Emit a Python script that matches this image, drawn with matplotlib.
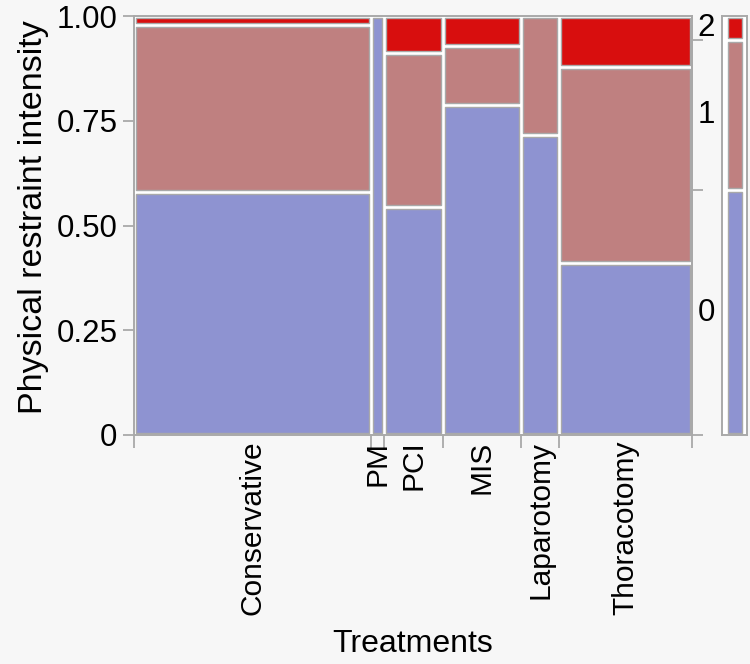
import matplotlib as mpl
import matplotlib.pyplot as plt
from matplotlib.patches import Rectangle
import numpy as np

treatments = ["Conservative", "PM", "PCI", "MIS", "Laparotomy", "Thoracotomy"]
treatment_share = [0.4246, 0.0231, 0.1060, 0.1404, 0.0682, 0.2376]
level_names = ["0", "1", "2"]
level0 = [0.581, 1.000, 0.544, 0.787, 0.716, 0.410]
level1 = [0.397, 0.000, 0.368, 0.141, 0.284, 0.469]
level2 = [0.022, 0.000, 0.088, 0.072, 0.000, 0.121]

COLORS = ["#8e93d1", "#bf8080", "#d80e0e"]
EDGE = "#a9a9a9"
BG = "#f7f7f7"

mpl.rcParams.update({
    "font.family": ["Liberation Sans", "DejaVu Sans"],
    "font.size": 22,
    "axes.edgecolor": EDGE,
    "axes.linewidth": 1.4,
    "xtick.color": EDGE,
    "ytick.color": EDGE,
    "xtick.labelcolor": "black",
    "ytick.labelcolor": "black",
})

W, H = 750, 664
fig = plt.figure(figsize=(W / 100, H / 100), dpi=100, facecolor=BG)

# main mosaic axes (pixel box from the reference)
L, R, T, B = 134, 691.7, 16, 435
ax = fig.add_axes([L / W, 1 - B / H, (R - L) / W, (B - T) / H], facecolor="white")
ax.set_xlim(0, 1)
ax.set_ylim(0, 1)

gx = 2.0 / (R - L)
gy = 2.0 / (B - T)

levels = np.array([level0, level1, level2])
share = np.array(treatment_share)
edges = np.concatenate([[0], np.cumsum(share)])
edges = edges / edges[-1]

for i in range(len(treatments)):
    x0, x1 = edges[i], edges[i + 1]
    y = 0.0
    for k in range(3):
        h = levels[k, i]
        if h <= 0:
            continue
        ax.add_patch(Rectangle((x0 + gx, y + gy), (x1 - x0) - 2 * gx, h - 2 * gy,
                               facecolor=COLORS[k], edgecolor=EDGE, linewidth=1.0))
        y += h

# axes, ticks
ax.set_yticks([0, 0.25, 0.5, 0.75, 1.0])
ax.set_yticklabels(["0", "0.25", "0.50", "0.75", "1.00"], fontsize=22.5)
ax.set_xticks(edges)
ax.set_xticklabels([])
ax.set_xticks((edges[:-1] + edges[1:]) / 2, minor=True)
ax.set_xticklabels(treatments, minor=True, rotation=90, va="top", fontsize=21.5)
ax.tick_params(axis="x", which="major", length=9, width=1.3)
ax.tick_params(axis="x", which="minor", length=0, pad=4)
ax.tick_params(axis="y", which="major", length=8, width=1.3, pad=4)
ax.set_xlabel("Treatments", fontsize=23, labelpad=10)
ax.set_ylabel("Physical restraint intensity", fontsize=24.5)
ax.yaxis.set_label_coords(-0.152, 0.52)

# overall distribution
marginal = levels @ share / share.sum()
cum = np.concatenate([[0], np.cumsum(marginal)])

ax_r = ax.secondary_yaxis("right")
ax_r.set_yticks(cum[:-1])
ax_r.set_yticklabels([])
ax_r.tick_params(length=8, width=1.3)
for k, name in enumerate(level_names):
    ax.text(1.0 + 6 / (R - L), (cum[k] + cum[k + 1]) / 2, name, transform=ax.transAxes,
            ha="left", va="center", fontsize=22.5)

ML, MR = 722, 747
axm = fig.add_axes([ML / W, 1 - B / H, (MR - ML) / W, (B - T) / H], facecolor="white")
axm.set_xlim(0, 1)
axm.set_ylim(0, 1)
axm.set_xticks([])
axm.set_yticks([])
mx = 5.5 / (MR - ML)
for k in range(3):
    axm.add_patch(Rectangle((mx, cum[k] + gy), 1 - 2 * mx, marginal[k] - 2 * gy,
                            facecolor=COLORS[k], edgecolor=EDGE, linewidth=1.0))

fig.savefig("out.png", dpi=100, facecolor=BG)
